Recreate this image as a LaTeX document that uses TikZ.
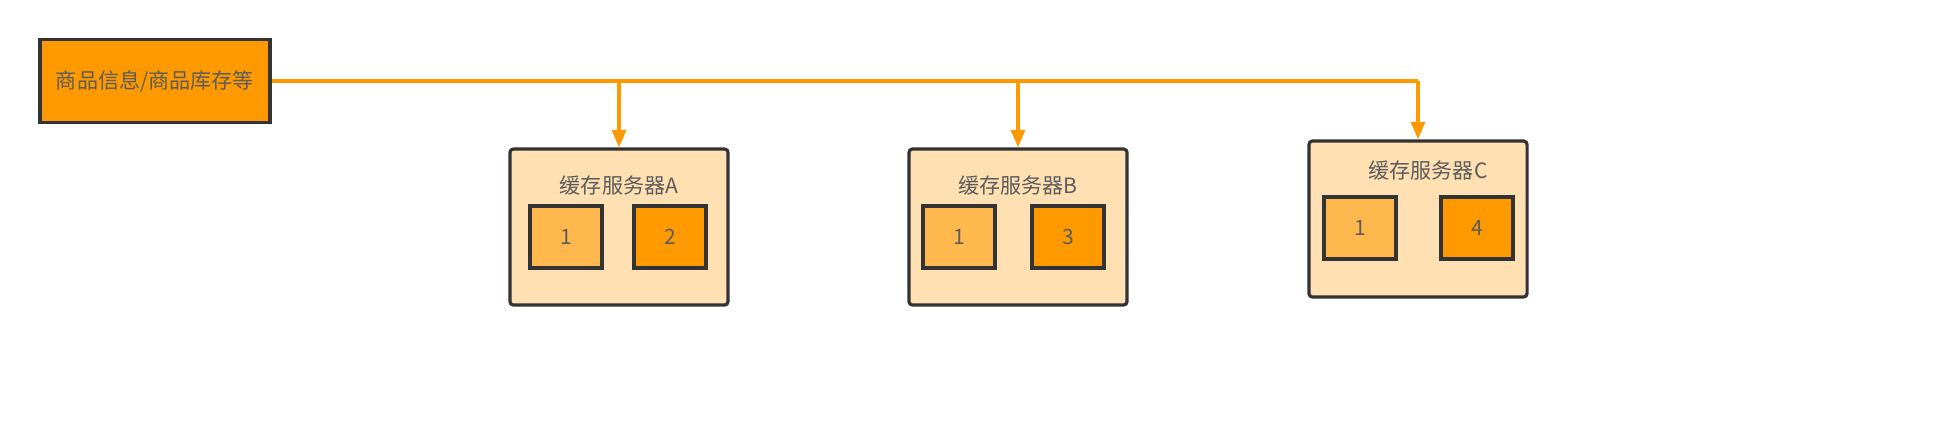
\documentclass[tikz,border=0pt]{standalone}
\usepackage{fontspec}
\newfontfamily\cjk{Noto Sans CJK SC}
\usetikzlibrary{arrows.meta}
\definecolor{deep}{HTML}{FF9900}
\definecolor{mid}{HTML}{FFB84D}
\definecolor{pale}{HTML}{FFE0B2}
\definecolor{edge}{HTML}{333333}
\tikzset{
  srcbox/.style={draw=edge, fill=deep, line width=0.9pt, minimum width=2.3cm, minimum height=0.83cm, font=\cjk\fontsize{6}{7}\selectfont, text=edge!80},
  server/.style={draw=edge, fill=pale, line width=0.9pt, rounded corners=1pt, minimum width=2.18cm, minimum height=1.56cm},
  slot/.style={draw=edge, line width=0.9pt, minimum width=0.72cm, minimum height=0.62cm, font=\cjk\fontsize{6}{7}\selectfont, text=edge!80},
  title/.style={font=\cjk\fontsize{6}{7}\selectfont, text=edge!80},
  feed/.style={draw=deep, line width=0.9pt},
  drop/.style={feed, -{Triangle[width=4pt,length=5pt]}}
}
\begin{document}
\begin{tikzpicture}[x=0.01cm,y=-0.01cm]
  \useasboundingbox (0,0) rectangle (1958,432);
  \node[srcbox] (src) at (155,81) {商品信息/商品库存等};

  % servers
  \node[server] (A) at (619,227) {};
  \node[title] (At) at (619,185) {缓存服务器A};
  \node[slot, fill=mid] (A1) at (566,237) {1};
  \node[slot, fill=deep] (A2) at (670,237) {2};

  \node[server] (B) at (1018,227) {};
  \node[title] (Bt) at (1018,185) {缓存服务器B};
  \node[slot, fill=mid] (B1) at (959,237) {1};
  \node[slot, fill=deep] (B2) at (1068,237) {3};

  \node[server] (C) at (1418,219) {};
  \node[title] (Ct) at (1428,170) {缓存服务器C};
  \node[slot, fill=mid] (C1) at (1360,228) {1};
  \node[slot, fill=deep] (C2) at (1477,228) {4};

  % feed line
  \coordinate (kA) at (619,81);
  \coordinate (kB) at (1018,81);
  \coordinate (kC) at (1418,81);
  \draw[feed] (src.east) -- (kC);
  \draw[drop] (kA) -- (A.north);
  \draw[drop] (kB) -- (B.north);
  \draw[drop] (kC) -- (C.north);
\end{tikzpicture}
\end{document}
